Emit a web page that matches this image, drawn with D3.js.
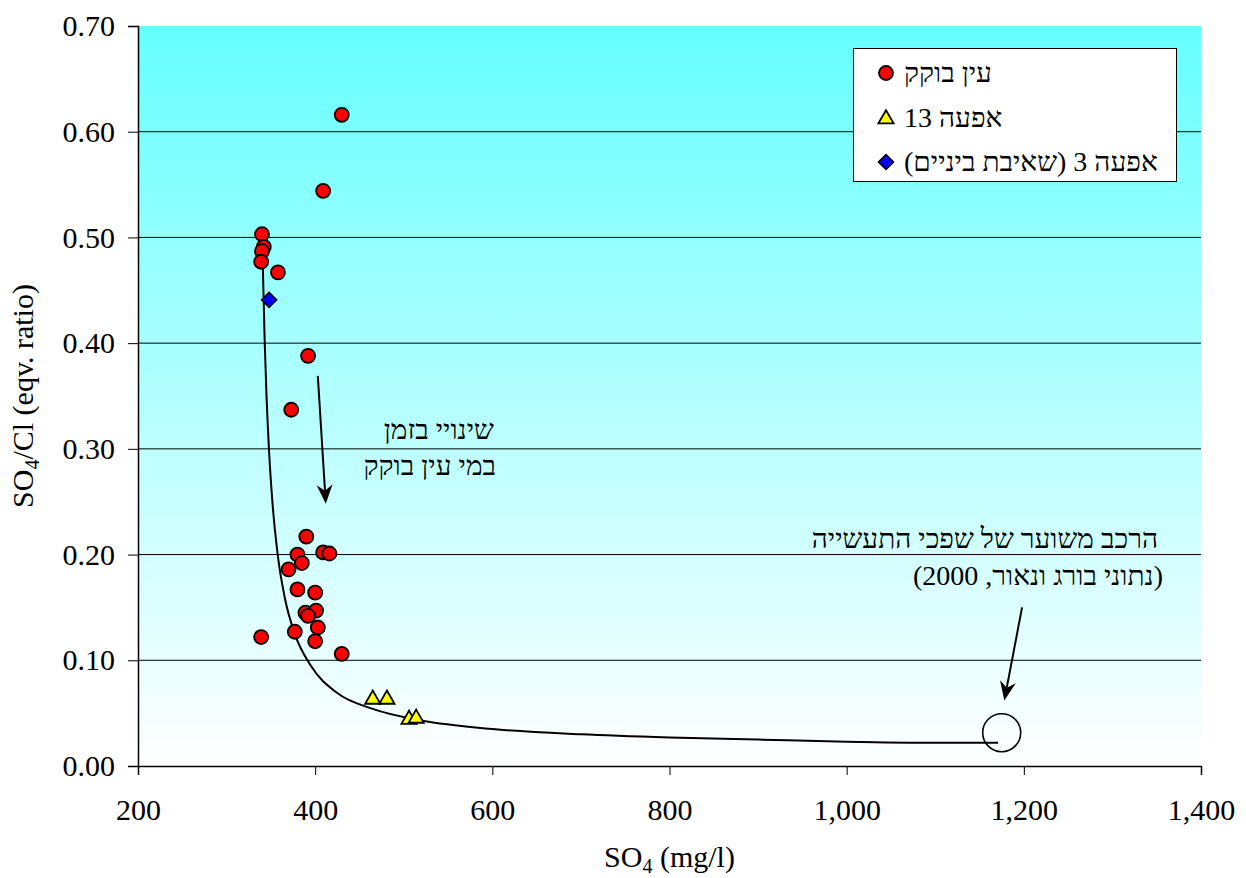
<!DOCTYPE html>
<html>
<head>
<meta charset="utf-8">
<script src="https://cdn.jsdelivr.net/npm/d3@7"></script>
<style>
  html, body { margin: 0; padding: 0; background: #ffffff; }
  svg { display: block; }
  svg text { font-family: "Liberation Serif", "Times New Roman", "DejaVu Serif", serif; }
</style>
</head>
<body>
<svg id="chart" width="1246" height="878"></svg>
<script>
// ---------------- data ----------------
const xTicks = [200, 400, 600, 800, 1000, 1200, 1400];
const yTicks = [0, 0.1, 0.2, 0.3, 0.4, 0.5, 0.6, 0.7];

// עין בוקק
const eynBokekSO4   = [430, 409, 340, 342, 340, 339, 358, 392, 373, 390, 380, 409, 416, 385, 370, 380, 400, 389, 401, 392, 403, 339, 377, 400, 430];
const eynBokekRatio = [0.616, 0.544, 0.503, 0.491, 0.487, 0.477, 0.467, 0.388, 0.337, 0.217, 0.200, 0.202, 0.201, 0.192, 0.186, 0.167, 0.164, 0.145, 0.147, 0.142, 0.131, 0.122, 0.127, 0.118, 0.106];

// אפעה 13
const afa13SO4   = [465, 481, 506, 514];
const afa13Ratio = [0.064, 0.064, 0.045, 0.046];

// אפעה 3 (שאיבת ביניים)
const afa3SO4   = [348];
const afa3Ratio = [0.441];

// mixing curve
const curveSO4   = [341, 343, 345, 348, 352, 358, 366, 377, 395, 425, 465, 520, 600, 700, 800, 900, 1000, 1100, 1171];
const curveRatio = [0.470, 0.402, 0.352, 0.297, 0.247, 0.198, 0.158, 0.125, 0.095, 0.069, 0.054, 0.043, 0.035, 0.030, 0.027, 0.025, 0.023, 0.022, 0.022];

// estimated composition of industrial effluent (open circle)
const wasteSO4   = [1175];
const wasteRatio = [0.0315];

// annotation arrows [fromSO4, fromRatio, toSO4, toRatio]
const arrowTime  = [403, 0.369, 412, 0.248];
const arrowWaste = [1198, 0.150, 1178, 0.062];

const legendLabels = ["עין בוקק", "אפעה 13", "אפעה 3 (שאיבת ביניים)"];
const noteTime  = ["שינויי בזמן", "במי עין בוקק"];
const noteWaste = ["הרכב משוער של שפכי התעשייה", "(נתוני בורג ונאור, 2000)"];

// ---------------- layout ----------------
const FONT = "'Liberation Serif', 'Times New Roman', 'DejaVu Serif', serif";
const svg = d3.select("#chart");
const L = 138, R = 1201, T = 26, B = 766;
const x = d3.scaleLinear().domain([200, 1400]).range([L, R]);
const y = d3.scaleLinear().domain([0, 0.7]).range([B, T]);

// background gradient
const defs = svg.append("defs");
const grad = defs.append("linearGradient").attr("id", "bg").attr("x1", 0).attr("y1", 0).attr("x2", 0).attr("y2", 1);
grad.append("stop").attr("offset", "0%").attr("stop-color", "#66ffff");
grad.append("stop").attr("offset", "100%").attr("stop-color", "#ffffff");
svg.append("rect").attr("x", L).attr("y", T).attr("width", R - L).attr("height", B - T).attr("fill", "url(#bg)");

// gridlines
svg.append("g").selectAll("line").data(yTicks.filter(d => d > 0 && d < 0.7)).join("line")
  .attr("x1", L).attr("x2", R).attr("y1", d => y(d)).attr("y2", d => y(d))
  .attr("stroke", "#000").attr("stroke-width", 1);

// axes
const fmtY = d3.format(".2f");
const fmtX = d3.format(",");
const yAxis = svg.append("g").attr("transform", `translate(${L},0)`)
  .call(d3.axisLeft(y).tickValues(yTicks).tickFormat(fmtY).tickSizeOuter(0).tickSize(10).tickPadding(13));
const xAxis = svg.append("g").attr("transform", `translate(0,${B})`)
  .call(d3.axisBottom(x).tickValues(xTicks).tickFormat(fmtX).tickSizeOuter(0).tickSize(9).tickPadding(24));
[yAxis, xAxis].forEach(g => {
  g.attr("font-family", FONT).attr("font-size", 30);
  g.select(".domain").attr("stroke", "#000").attr("stroke-width", 1.5);
  g.selectAll(".tick line").attr("stroke", "#000");
  g.selectAll(".tick text").attr("fill", "#000").attr("font-family", FONT).style("font-family", FONT).style("font-size", "30px");
});
xAxis.selectAll(".tick text").attr("dy", "0.71em");

// axis titles
const xt = svg.append("text").attr("x", (L + R) / 2).attr("y", 867).attr("text-anchor", "middle").style("font-size", "30px");
xt.append("tspan").text("SO");
xt.append("tspan").text("4").attr("dy", 6).style("font-size", "20px");
xt.append("tspan").text(" (mg/l)").attr("dy", -6);

const yt = svg.append("text").attr("transform", `translate(33,${(T + B) / 2}) rotate(-90)`).attr("text-anchor", "middle").style("font-size", "30px");
yt.append("tspan").text("SO");
yt.append("tspan").text("4").attr("dy", 6).style("font-size", "20px");
yt.append("tspan").text("/Cl (eqv. ratio)").attr("dy", -6);

// mixing curve
const curvePts = curveSO4.map((s, i) => [s, curveRatio[i]]);
svg.append("path").datum(curvePts)
  .attr("d", d3.line().x(d => x(d[0])).y(d => y(d[1])).curve(d3.curveMonotoneX))
  .attr("fill", "none").attr("stroke", "#000").attr("stroke-width", 2);

// open circle for industrial effluent
svg.append("g").selectAll("circle").data(wasteSO4.map((s, i) => [s, wasteRatio[i]])).join("circle")
  .attr("cx", d => x(d[0])).attr("cy", d => y(d[1])).attr("r", 19)
  .attr("fill", "none").attr("stroke", "#000").attr("stroke-width", 1.6);

// markers
const triSym = d3.symbol().type(d3.symbolTriangle).size(100);
const diaSym = d3.symbol().type(d3.symbolSquare).size(112);
svg.append("g").selectAll("circle").data(eynBokekSO4.map((s, i) => [s, eynBokekRatio[i]])).join("circle")
  .attr("cx", d => x(d[0])).attr("cy", d => y(d[1])).attr("r", 7)
  .attr("fill", "#ff0000").attr("stroke", "#000").attr("stroke-width", 1.8);
svg.append("g").selectAll("path").data(afa13SO4.map((s, i) => [s, afa13Ratio[i]])).join("path")
  .attr("d", triSym).attr("transform", d => `translate(${x(d[0])},${y(d[1]) + 1})`)
  .attr("fill", "#ffff00").attr("stroke", "#000").attr("stroke-width", 1.8).attr("stroke-linejoin", "miter");
svg.append("g").selectAll("path").data(afa3SO4.map((s, i) => [s, afa3Ratio[i]])).join("path")
  .attr("d", diaSym).attr("transform", d => `translate(${x(d[0])},${y(d[1])}) rotate(45)`)
  .attr("fill", "#0000ff").attr("stroke", "#000").attr("stroke-width", 1.6);

// arrows
function arrow(a) {
  const x1 = x(a[0]), y1 = y(a[1]), x2 = x(a[2]), y2 = y(a[3]);
  const ang = Math.atan2(y2 - y1, x2 - x1);
  const len = 19, hw = 8, notch = 6;
  const ux = Math.cos(ang), uy = Math.sin(ang), px = -uy, py = ux;
  const bx = x2 - ux * len, by = y2 - uy * len;
  const nx = x2 - ux * (len - notch), ny = y2 - uy * (len - notch);
  svg.append("line").attr("x1", x1).attr("y1", y1).attr("x2", nx).attr("y2", ny)
    .attr("stroke", "#000").attr("stroke-width", 2);
  svg.append("path")
    .attr("d", `M${x2},${y2} L${bx + px * hw},${by + py * hw} L${nx},${ny} L${bx - px * hw},${by - py * hw} Z`)
    .attr("fill", "#000");
}
arrow(arrowTime);
arrow(arrowWaste);

// RTL text helpers
function rtlText(str, xr, yb, size) {
  const t = svg.append("text").attr("x", xr).attr("y", yb).attr("direction", "rtl")
    .style("unicode-bidi", "embed").style("font-size", size + "px").attr("fill", "#000").text(str);
  const bb = t.node().getBBox();
  t.attr("x", xr + (xr - (bb.x + bb.width)));
  return t;
}
function rtlTextLeft(str, xl, yb, size) {
  const t = svg.append("text").attr("x", xl).attr("y", yb).attr("direction", "rtl")
    .style("unicode-bidi", "embed").style("font-size", size + "px").attr("fill", "#000").text(str);
  const bb = t.node().getBBox();
  t.attr("x", xl + (xl - bb.x));
  return t;
}

rtlText(noteTime[0], 494, 439, 28);
rtlText(noteTime[1], 496, 475, 28);
rtlText(noteWaste[0], 1158, 548, 28);
rtlText(noteWaste[1], 1163, 585, 28);

// legend
svg.append("rect").attr("x", 853.5).attr("y", 48.5).attr("width", 323).attr("height", 133)
  .attr("fill", "#fff").attr("stroke", "#000").attr("stroke-width", 1);
const legY = [73, 118, 162];
svg.append("circle").attr("cx", 886).attr("cy", legY[0]).attr("r", 7)
  .attr("fill", "#ff0000").attr("stroke", "#000").attr("stroke-width", 1.8);
svg.append("path").attr("d", triSym).attr("transform", `translate(886,${legY[1] + 1})`)
  .attr("fill", "#ffff00").attr("stroke", "#000").attr("stroke-width", 1.8);
svg.append("path").attr("d", diaSym).attr("transform", `translate(886,${legY[2]}) rotate(45)`)
  .attr("fill", "#0000ff").attr("stroke", "#000").attr("stroke-width", 1.6);
legendLabels.forEach((s, i) => rtlTextLeft(s, 904, legY[i] + 9, 28));
</script>
</body>
</html>
